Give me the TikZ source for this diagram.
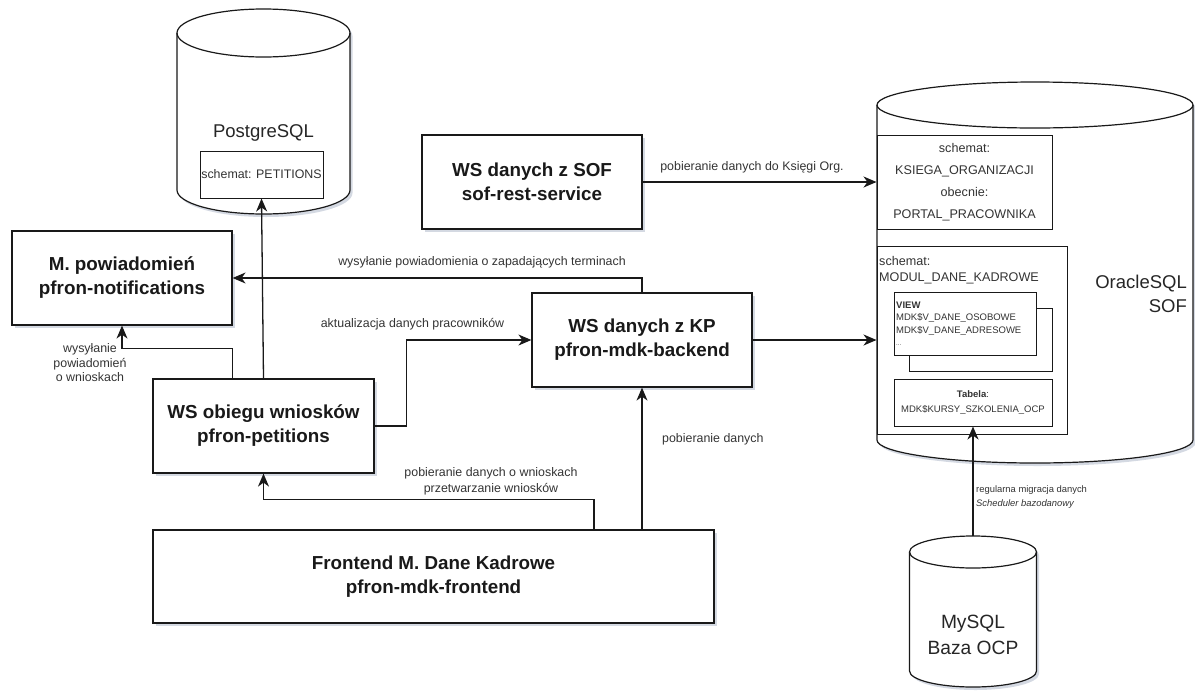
\documentclass[tikz,border=0pt]{standalone}
\usepackage{fontspec}
\setmainfont{Liberation Sans}
\usetikzlibrary{arrows.meta,shadows,calc}
\definecolor{lbl}{HTML}{333333}
\definecolor{shd}{HTML}{7080A0}
\tikzset{
 sh/.style={drop shadow={shadow xshift=2.5pt,shadow yshift=-3pt,opacity=0.3,fill=shd}},
 box/.style={draw=black!90, line width=1.2pt, fill=white, sh, align=center, inner sep=0pt,
   font=\bfseries\fontsize{18.8}{24}\selectfont, text=black!90},
 inbox/.style={draw=black!90, line width=1pt, fill=white, inner sep=0pt},
 conn/.style={draw=black!90, line width=1.3pt, -{Stealth[length=13pt,width=11pt,inset=4pt]}},
 lab/.style={font=\fontsize{12.4}{14}\selectfont, text=lbl, align=center, inner sep=0pt},
 cyl/.style={draw=black!90, line width=1.2pt, fill=white}
}
\begin{document}
\begin{tikzpicture}[x=1pt,y=-1pt]
\useasboundingbox (0,0) rectangle (1195,697);

% PostgreSQL cylinder
\path[cyl, sh] (177,33) -- (177,190) arc[start angle=180,end angle=360,x radius=86.5pt,y radius=24pt] -- (350,33) arc[start angle=0,end angle=180,x radius=86.5pt,y radius=24pt] -- cycle;
\draw[cyl, fill=none] (177,33) arc[start angle=180,end angle=360,x radius=86.5pt,y radius=24pt];
\node[font=\fontsize{18.5}{20}\selectfont, text=black!85] (pgt) at (263.5,133) {PostgreSQL};
\node[inbox, minimum width=123pt, minimum height=47pt, font=\fontsize{12.4}{14}\selectfont, text=lbl] (pgs) at (261.5,174.5) {schemat: PETITIONS};

% OracleSQL cylinder
\path[cyl, sh] (877,105) -- (877,440) arc[start angle=180,end angle=360,x radius=158pt,y radius=23pt] -- (1193,105) arc[start angle=0,end angle=180,x radius=158pt,y radius=23pt] -- cycle;
\draw[cyl, fill=none] (877,105) arc[start angle=180,end angle=360,x radius=158pt,y radius=23pt];
\node[anchor=east, align=right, font=\fontsize{18.5}{24}\selectfont, text=black!85, inner sep=0pt] (ort) at (1187,294) {OracleSQL\\SOF};

\node[inbox, minimum width=175pt, minimum height=94pt, align=center, font=\fontsize{12.6}{22}\selectfont, text=lbl] (ksg) at (964.5,182) {schemat:\\KSIEGA\_ORGANIZACJI\\obecnie:\\PORTAL\_PRACOWNIKA};

\node[inbox, minimum width=190pt, minimum height=188pt] (mod) at (972,340) {};
\node[anchor=west, align=left, font=\fontsize{12.6}{15.5}\selectfont, text=lbl, inner sep=0pt] (modt) at (879,270) {schemat:\\MODUL\_DANE\_KADROWE};

\node[inbox, minimum width=143pt, minimum height=63pt] (vb) at (980.5,339.5) {};
\node[inbox, minimum width=142pt, minimum height=63pt] (vf) at (965,323.5) {};
\node[anchor=west, align=left, font=\fontsize{9.5}{12.5}\selectfont, text=lbl, inner sep=0pt] (vt) at (896,323.5) {\textbf{VIEW}\\MDK\$V\_DANE\_OSOBOWE\\MDK\$V\_DANE\_ADRESOWE\\\fontsize{6}{8}\selectfont ...};

\node[inbox, minimum width=158pt, minimum height=47pt, font=\fontsize{9.5}{15}\selectfont, text=lbl, align=center] (tab) at (973,402.5) {\textbf{Tabela}:\\MDK\$KURSY\_SZKOLENIA\_OCP};

% MySQL cylinder
\path[cyl, sh] (909.5,552) -- (909.5,671) arc[start angle=180,end angle=360,x radius=63.5pt,y radius=16pt] -- (1036.5,552) arc[start angle=0,end angle=180,x radius=63.5pt,y radius=16pt] -- cycle;
\draw[cyl, fill=none] (909.5,552) arc[start angle=180,end angle=360,x radius=63.5pt,y radius=16pt];
\coordinate (mytop) at (973,536);
\node[align=center, font=\fontsize{19.2}{26}\selectfont, text=black!85, inner sep=0pt] (myt) at (973,635) {MySQL\\Baza OCP};

% Service boxes
\node[box, minimum width=220pt, minimum height=94pt] (notif) at (122,278) {M. powiadomień\\pfron-notifications};
\node[box, minimum width=221pt, minimum height=94pt] (obieg) at (263.5,426) {WS obiegu wniosków\\pfron-petitions};
\node[box, minimum width=220pt, minimum height=94pt] (sof) at (532,182) {WS danych z SOF\\sof-rest-service};
\node[box, minimum width=220pt, minimum height=94pt] (kp) at (642,340) {WS danych z KP\\pfron-mdk-backend};
\node[box, minimum width=561pt, minimum height=93pt] (front) at (433.5,576.5) {Frontend M. Dane Kadrowe\\pfron-mdk-frontend};

% Connectors
\draw[conn] (obieg.north) -- (pgs.south);
\draw[conn] (kp.north) |- (notif.east);
\draw[conn] (obieg.north -| notif.east) |- ($(notif.south)+(0,23)$) -- (notif.south);
\draw[conn] (obieg.east) -- ++(32,0) |- (kp.west);
\draw[conn] (kp.east) -- (mod.west);
\draw[conn] (sof.east) -- (ksg.west);
\draw[conn] ($(front.north)+(160.5,0)$) |- ($(obieg.south)+(0,26)$) -- (obieg.south);
\draw[conn] (kp.south |- front.north) -- (kp.south);
\draw[conn] (mytop) -- (tab.south);

% Labels
\node[lab] (l1) at (482,262) {wysyłanie powiadomienia o zapadających terminach};
\node[lab] (l2) at (412.5,324) {aktualizacja danych pracowników};
\node[lab] (l3) at (752,167) {pobieranie danych do Księgi Org.};
\node[lab, font=\fontsize{12.4}{14.5}\selectfont] (l4) at (90,363) {wysyłanie\\powiadomień\\o wnioskach};
\node[lab, font=\fontsize{12.4}{16}\selectfont] (l5) at (491,481) {pobieranie danych o wnioskach\\przetwarzanie wniosków};
\node[lab, anchor=west] (l6) at (662,439) {pobieranie danych};
\node[lab, anchor=west, align=left, font=\fontsize{9.4}{14}\selectfont] (l7) at (976,497) {regularna migracja danych\\\textit{Scheduler bazodanowy}};
\end{tikzpicture}
\end{document}
